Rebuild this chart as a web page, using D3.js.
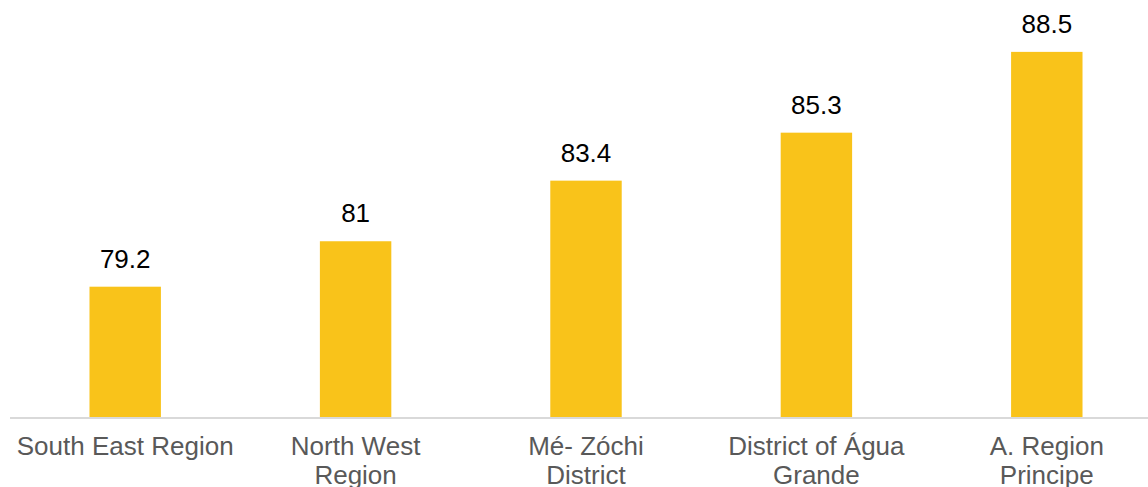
<!DOCTYPE html>
<html>
<head>
<meta charset="utf-8">
<script src="https://cdn.jsdelivr.net/npm/d3@7"></script>
<style>
  body { margin: 0; background: #fff; }
  text { font-family: "Liberation Sans", Arial, sans-serif; }
</style>
</head>
<body>
<script>
const categories = ["South East Region", "North West Region", "Mé- Zóchi District", "District of Água Grande", "A. Region Principe"];
const labelLines = [["South East Region"], ["North West", "Region"], ["Mé- Zóchi", "District"], ["District of Água", "Grande"], ["A. Region", "Principe"]];
const values = [79.2, 81, 83.4, 85.3, 88.5];

const width = 1148;
const height = 487;

const svg = d3.select("body")
  .append("svg")
  .attr("width", width)
  .attr("height", height);

const x = d3.scaleBand()
  .domain(categories)
  .range([10, 1162])
  .paddingInner(0.69)
  .paddingOuter(0.345);

const y = d3.scaleLinear()
  .domain([74, 90])
  .range([418, 14]);

// bars
svg.selectAll(".bar")
  .data(values)
  .enter()
  .append("rect")
  .attr("class", "bar")
  .attr("x", (d, i) => x(categories[i]))
  .attr("y", d => y(d))
  .attr("width", x.bandwidth())
  .attr("height", d => y(74) - y(d))
  .attr("fill", "#F9C31A");

// axis line
svg.append("line")
  .attr("x1", 10)
  .attr("x2", width)
  .attr("y1", 418)
  .attr("y2", 418)
  .attr("stroke", "#D9D9D9")
  .attr("stroke-width", 2);

// values
svg.selectAll(".val")
  .data(values)
  .enter()
  .append("text")
  .attr("class", "val")
  .attr("x", (d, i) => x(categories[i]) + x.bandwidth() / 2)
  .attr("y", d => y(d) - 19)
  .attr("text-anchor", "middle")
  .attr("font-size", 26)
  .attr("fill", "#000")
  .text(d => d);

// category labels
const labels = svg.selectAll(".cat")
  .data(labelLines)
  .enter()
  .append("text")
  .attr("class", "cat")
  .attr("text-anchor", "middle")
  .attr("font-size", 26)
  .attr("fill", "#595959");

labels.selectAll("tspan")
  .data((d, i) => d.map(t => ({ t, i })))
  .enter()
  .append("tspan")
  .attr("x", d => x(categories[d.i]) + x.bandwidth() / 2)
  .attr("y", (d, j) => 455 + j * 29)
  .text(d => d.t);
</script>
</body>
</html>
